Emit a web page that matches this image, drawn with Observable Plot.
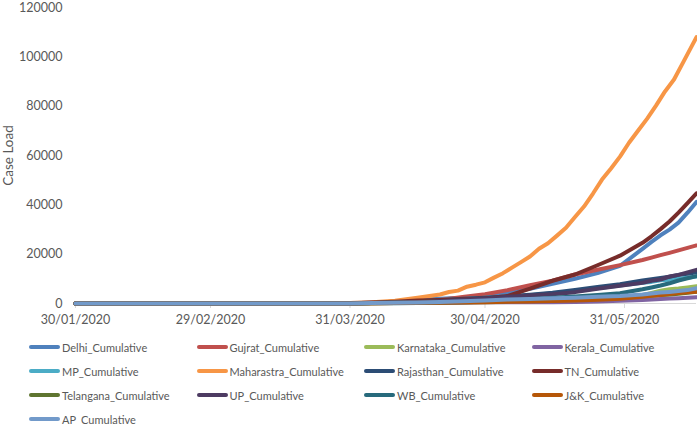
<!DOCTYPE html>
<html>
<head>
<meta charset="utf-8">
<script src="https://cdn.jsdelivr.net/npm/d3@7"></script>
<script src="https://cdn.jsdelivr.net/npm/@observablehq/plot@0.6"></script>
<style>
  html, body { margin: 0; padding: 0; background: #fff; }
  #wrap { position: relative; width: 697px; height: 425px; overflow: hidden; font-family: Lato, "Liberation Sans", sans-serif; }
  #legend { position: absolute; left: 0; top: 330px; width: 697px; height: 95px; }
  .item { position: absolute; display: flex; align-items: center; height: 20px; font-size: 11px; color: #595959; white-space: nowrap; }
  .sw { width: 31px; height: 4px; border-radius: 2px; margin-right: 2px; }
</style>
</head>
<body>
<div id="wrap"><div id="chart"></div><div id="legend"></div></div>
<script>
const names = ["Delhi_Cumulative","Gujrat_Cumulative","Karnataka_Cumulative","Kerala_Cumulative","MP_Cumulative","Maharastra_Cumulative","Rajasthan_Cumulative","TN_Cumulative","Telangana_Cumulative","UP_Cumulative","WB_Cumulative","J&K_Cumulative","AP_Cumulative"];
const colors = ["#4F81BD","#C0504D","#9BBB59","#8064A2","#4BACC6","#F79646","#2C4D75","#772C2A","#5F7530","#4D3B62","#276A7C","#B65708","#729ACA"];

// shared dates for most series
const dates = ["2020-01-30","2020-03-01","2020-03-20","2020-03-31","2020-04-05","2020-04-10","2020-04-15","2020-04-20","2020-04-25","2020-04-30","2020-05-05","2020-05-10","2020-05-15","2020-05-20","2020-05-25","2020-05-30","2020-06-04","2020-06-06","2020-06-08","2020-06-10","2020-06-12","2020-06-14","2020-06-16"];

const delhi      = [0,0,10,72,386,669,1510,1893,2376,3314,4549,5980,7998,10054,12319,15257,22132,25004,27654,29943,32810,36824,41182];
const gujrat     = [0,0,5,58,95,186,538,1376,2624,3774,5428,7403,9268,11746,13664,15572,17617,18584,19592,20545,21554,22527,23544];
const karnataka  = [0,0,10,83,128,181,247,384,445,523,614,753,959,1246,1959,2533,3408,4320,5213,5760,6041,6516,7000];
const kerala     = [0,3,27,202,286,345,378,396,447,485,500,503,534,630,795,1088,1412,1588,1807,2005,2161,2322,2543];
const mp         = [0,0,0,39,154,229,604,1407,1699,2368,2846,3341,4173,4977,6170,7261,8420,8762,9401,9638,10049,10443,10935];
const rajasthan  = [0,0,7,59,167,343,873,1351,1890,2364,2886,3579,4328,5507,6742,7816,9373,9862,10331,10876,11600,12068,12694];
const tn         = [0,0,3,50,411,738,1173,1372,1683,2058,3023,6009,9227,11760,15512,19372,24586,27256,30152,33229,36841,40698,44661];
const telangana  = [0,0,13,70,154,453,562,791,970,1009,1082,1133,1367,1592,1813,2256,2891,3147,3496,3650,3920,4320,4737];
const up         = [0,0,17,72,172,361,558,974,1510,2053,2742,3214,3729,4605,6017,7170,8361,9237,9733,10947,11610,12616,13615];
const wb         = [0,0,1,18,63,99,152,287,456,697,922,1678,2290,2825,3459,4192,5772,6508,7303,8187,9328,10244,11087];
const jk         = [0,0,1,38,75,158,270,341,434,546,701,793,971,1188,1489,1921,2718,3142,3467,3876,4285,4574,4730];
const ap         = [0,0,1,19,161,348,432,603,893,1259,1583,1847,2137,2380,2709,3042,3676,4080,4460,4708,5029,5429,6163];

// Maharastra read at a finer step
const mhDates = ["2020-01-30","2020-03-01","2020-03-20","2020-03-31","2020-04-05","2020-04-10","2020-04-15","2020-04-20","2020-04-22","2020-04-24","2020-04-26","2020-04-28","2020-04-30","2020-05-02","2020-05-04","2020-05-06","2020-05-08","2020-05-10","2020-05-12","2020-05-14","2020-05-16","2020-05-18","2020-05-20","2020-05-22","2020-05-24","2020-05-26","2020-05-28","2020-05-30","2020-06-01","2020-06-03","2020-06-05","2020-06-07","2020-06-09","2020-06-11","2020-06-13","2020-06-15","2020-06-16"];
const maharastra = [0,0,45,203,490,1135,2334,3648,4666,5218,6817,7628,8590,10498,12296,14541,16758,19063,22171,24427,27524,30706,35058,39297,44582,50231,54758,59546,65168,70013,74860,80229,85975,90787,97648,104568,107958];

const xTickLabels = ["2020-01-30","2020-02-29","2020-03-31","2020-04-30","2020-05-31"];
const yTicks = [0,20000,40000,60000,80000,100000,120000];

const seriesValues = {Delhi_Cumulative: delhi, Gujrat_Cumulative: gujrat, Karnataka_Cumulative: karnataka, Kerala_Cumulative: kerala, MP_Cumulative: mp, Maharastra_Cumulative: maharastra, Rajasthan_Cumulative: rajasthan, TN_Cumulative: tn, Telangana_Cumulative: telangana, UP_Cumulative: up, WB_Cumulative: wb, "J&K_Cumulative": jk, AP_Cumulative: ap};
const toDate = d => new Date(d + "T00:00:00Z");
const rows = [];
names.forEach(n => {
  const ds = n === "Maharastra_Cumulative" ? mhDates : dates;
  ds.forEach((d, j) => rows.push({series: n, date: toDate(d), value: seriesValues[n][j]}));
});

const chart = Plot.plot({
  width: 697,
  height: 330,
  marginLeft: 75,
  marginRight: 1,
  marginTop: 7,
  marginBottom: 27,
  style: {fontFamily: "Lato, 'Liberation Sans', sans-serif", fontSize: "12.5px", color: "#595959", background: "#fff"},
  x: {type: "utc", domain: [toDate("2020-01-30"), toDate("2020-06-16")]},
  y: {domain: [0, 120000]},
  color: {domain: names, range: colors},
  marks: [
    Plot.ruleY([0], {stroke: "#d9d9d9", strokeWidth: 1}),
    Plot.axisX({ticks: xTickLabels.map(toDate), tickFormat: d3.utcFormat("%d/%m/%Y"), tickSize: 5, tickPadding: 7, stroke: "#d9d9d9", label: null, fontSize: 12.5}),
    Plot.axisY({ticks: yTicks, tickFormat: d3.format("d"), tickSize: 0, tickPadding: 13, label: null, fontSize: 12.5}),
    Plot.text(["Case Load"], {frameAnchor: "left", textAnchor: "middle", dx: -67, rotate: -90, fontSize: 13.5, fill: "#595959"}),
    Plot.line(rows, {x: "date", y: "value", z: "series", stroke: "series", strokeWidth: 4, strokeLinecap: "round", strokeLinejoin: "round"})
  ]
});
document.getElementById("chart").appendChild(chart);

const legend = document.getElementById("legend");
names.forEach((n, i) => {
  const col = i % 4, row = Math.floor(i / 4);
  const item = document.createElement("div");
  item.className = "item";
  item.style.left = (29 + col * 167.5) + "px";
  item.style.top = (7 + row * 24) + "px";
  const sw = document.createElement("span");
  sw.className = "sw";
  sw.style.background = colors[i];
  const tx = document.createElement("span");
  tx.textContent = n;
  item.appendChild(sw); item.appendChild(tx);
  legend.appendChild(item);
});
</script>
</body>
</html>
